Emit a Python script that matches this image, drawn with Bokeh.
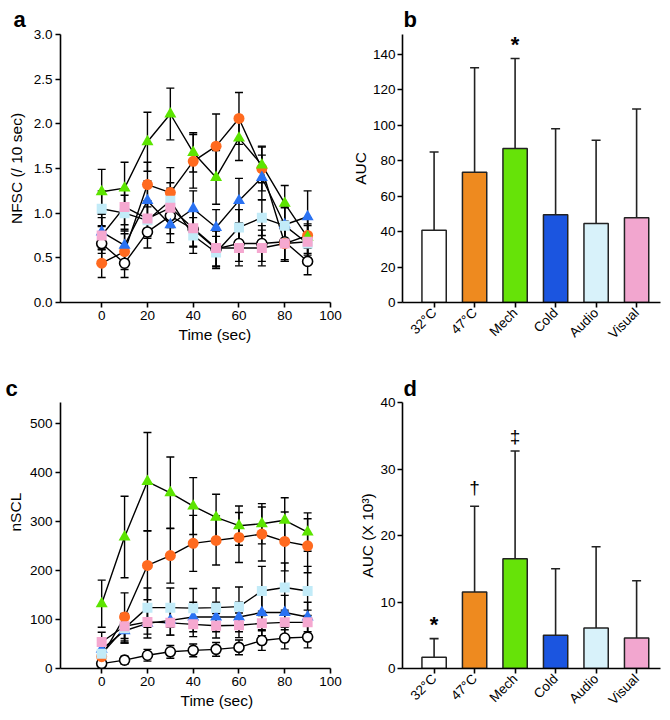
import math
from bokeh.plotting import figure
from bokeh.models import ColumnDataSource, Whisker, TeeHead, FixedTicker, Range1d, Title
from bokeh.layouts import row, column
from bokeh.embed import file_html
from bokeh.resources import INLINE
from bokeh.core.properties import value

# ---------------- data ----------------
time_sec = [0, 10, 20, 30, 40, 50, 60, 70, 80, 90]
groups = ["32°C", "47°C", "Mech", "Cold", "Audio", "Visual"]

# panel a: NFSC (/10 sec), mean and SEM
nfsc_32 = [0.66, 0.44, 0.79, 0.97, 0.82, 0.60, 0.66, 0.66, 0.68, 0.46]
nfsc_47 = [0.44, 0.57, 1.32, 1.23, 1.58, 1.75, 2.06, 1.50, 0.66, 0.75]
nfsc_mech = [1.24, 1.28, 1.80, 2.11, 1.68, 1.40, 1.84, 1.54, 1.11, 0.73]
nfsc_cold = [0.79, 0.64, 1.14, 0.87, 1.05, 0.84, 1.14, 1.40, 0.87, 0.96]
nfsc_audio = [1.05, 1.00, 0.92, 1.14, 0.75, 0.56, 0.84, 0.95, 0.86, 0.66]
nfsc_visual = [0.75, 1.07, 0.94, 1.06, 0.83, 0.61, 0.61, 0.61, 0.66, 0.68]
nfsc_err_32 = [0.20, 0.16, 0.18, 0.20, 0.20, 0.20, 0.20, 0.20, 0.20, 0.15]
nfsc_err_47 = [0.16, 0.20, 0.25, 0.28, 0.30, 0.36, 0.29, 0.25, 0.20, 0.20]
nfsc_err_mech = [0.25, 0.29, 0.33, 0.29, 0.22, 0.30, 0.25, 0.20, 0.20, 0.20]
nfsc_err_cold = [0.20, 0.18, 0.22, 0.20, 0.20, 0.20, 0.25, 0.25, 0.20, 0.29]
nfsc_err_audio = [0.20, 0.20, 0.20, 0.20, 0.20, 0.18, 0.20, 0.20, 0.20, 0.20]
nfsc_err_visual = [0.20, 0.20, 0.20, 0.22, 0.20, 0.20, 0.20, 0.20, 0.20, 0.20]

# panel c: nSCL, mean and SEM
nscl_32 = [10, 17, 27, 34, 37, 39, 43, 57, 62, 64]
nscl_47 = [24, 105, 210, 230, 255, 261, 267, 274, 259, 250]
nscl_mech = [132, 268, 381, 358, 331, 308, 291, 295, 302, 278]
nscl_cold = [39, 77, 92, 98, 105, 105, 105, 114, 114, 105]
nscl_audio = [30, 82, 124, 124, 123, 124, 126, 158, 165, 158]
nscl_visual = [54, 86, 95, 93, 90, 87, 88, 92, 94, 94]
nscl_err_32 = [6, 8, 12, 13, 13, 14, 15, 20, 22, 22]
nscl_err_47 = [10, 49, 70, 56, 57, 50, 51, 55, 60, 55]
nscl_err_mech = [48, 83, 100, 73, 58, 47, 40, 41, 46, 39]
nscl_err_cold = [15, 25, 30, 30, 30, 30, 30, 35, 35, 30]
nscl_err_audio = [15, 30, 40, 40, 40, 40, 40, 50, 50, 50]
nscl_err_visual = [20, 25, 25, 25, 25, 25, 25, 25, 25, 25]

# panel b: AUC of NFSC (mean, SD)
auc_nfsc = [40.7, 73.4, 86.7, 49.5, 44.5, 47.7]
auc_nfsc_sd = [44.1, 58.9, 50.8, 48.4, 46.9, 61.3]
marks_b = ["", "", "*", "", "", ""]

# panel d: AUC of nSCL (x 10^3)
auc_nscl = [1.7, 11.5, 16.5, 5.0, 6.1, 4.6]
auc_nscl_sd = [2.8, 12.9, 16.2, 10.0, 12.2, 8.6]
marks_d = ["*", "†", "‡", "", "", ""]

# ---------------- styles ----------------
FONT = "Liberation Sans"
TICK_FS = "13.5px"
LABEL_FS = "15.5px"
line_cols = ["white", "#FF6A1F", "#5CE400", "#2A72F2", "#C2EBF8", "#F5A8D0"]
line_markers = ["circle", "circle", "triangle", "triangle", "square", "square"]
marker_sizes = [10, 11, 12, 12, 10, 10]
bar_cols = ["white", "#EE8A1F", "#66E308", "#1B55E0", "#D8F2FA", "#F2A6CF"]
mark_style = {"*": ("22px", "bold", -14), "†": ("19px", "normal", -19), "‡": ("19px", "normal", -15)}


def style_axes(p):
    for ax in p.axis:
        ax.axis_line_width = 1.6
        ax.axis_line_color = "black"
        ax.major_tick_line_width = 1.6
        ax.major_tick_line_color = "black"
        ax.major_tick_out = 5
        ax.major_tick_in = 0
        ax.minor_tick_line_color = None
        ax.major_label_text_font = FONT
        ax.major_label_text_font_size = TICK_FS
        ax.major_label_text_color = "black"
        ax.major_label_standoff = 3
        ax.axis_label_text_font = FONT
        ax.axis_label_text_font_size = LABEL_FS
        ax.axis_label_text_font_style = "normal"
        ax.axis_label_text_color = "black"
        ax.axis_label_standoff = 4
    p.grid.visible = False
    p.outline_line_color = None
    p.background_fill_color = "white"
    p.border_fill_color = "white"


def panel_letter(p, letter, offset, standoff):
    p.title.text = letter
    p.title.align = "left"
    p.title.offset = offset
    p.title.standoff = standoff
    p.title.text_font = FONT
    p.title.text_font_size = "22px"
    p.title.text_font_style = "bold"
    p.title.text_color = "black"


def side_label(p, text, place, offset, standoff):
    p.add_layout(Title(text=text, align="left", offset=offset, standoff=standoff,
                       text_font=FONT, text_font_size=LABEL_FS, text_font_style="normal",
                       text_color="black"), place)


def line_panel(means, errs, yr, yticks, fmt, width, height, borders):
    bl, br, bt, bb = borders
    p = figure(width=width, height=height, output_backend="svg", toolbar_location=None,
               x_range=Range1d(-18, 100), y_range=Range1d(*yr),
               min_border_left=bl, min_border_right=br, min_border_top=bt, min_border_bottom=bb)
    for m, e in zip(means, errs):
        src = ColumnDataSource(dict(x=time_sec, y=m,
                                    up=[a + b for a, b in zip(m, e)],
                                    lo=[a - b for a, b in zip(m, e)]))
        p.add_layout(Whisker(source=src, base="x", upper="up", lower="lo",
                             line_color="black", line_width=1.4,
                             upper_head=TeeHead(size=8, line_width=1.4, line_color="black"),
                             lower_head=TeeHead(size=8, line_width=1.4, line_color="black")))
        p.line("x", "y", source=src, line_color="black", line_width=1.4)
    for i in range(len(means)):
        src = ColumnDataSource(dict(x=time_sec, y=means[i]))
        if i == 0:
            p.scatter("x", "y", source=src, marker="circle", size=marker_sizes[i],
                      fill_color="white", line_color="black", line_width=1.6)
        else:
            p.scatter("x", "y", source=src, marker=line_markers[i], size=marker_sizes[i],
                      fill_color=line_cols[i], line_color=None)
    p.xaxis.ticker = FixedTicker(ticks=[0, 20, 40, 60, 80, 100])
    p.yaxis.ticker = FixedTicker(ticks=yticks)
    p.yaxis.major_label_overrides = {t: fmt.format(t) for t in yticks}
    style_axes(p)
    return p


def bar_panel(means, sds, marks, yr, yticks, ylabel, width, height, borders):
    bl, br, bt, bb = borders
    xs = list(range(len(groups)))
    p = figure(width=width, height=height, output_backend="svg", toolbar_location=None,
               x_range=Range1d(-0.78, 5.59), y_range=Range1d(*yr),
               min_border_left=bl, min_border_right=br, min_border_top=bt, min_border_bottom=bb)
    src = ColumnDataSource(dict(x=xs, top=means, up=[a + b for a, b in zip(means, sds)],
                                col=bar_cols))
    p.add_layout(Whisker(source=src, base="x", upper="up", lower="top",
                         line_color="#222222", line_width=1.6,
                         upper_head=TeeHead(size=9, line_width=1.6, line_color="#222222"),
                         lower_head=None))
    p.vbar(x="x", top="top", bottom=0, width=0.6, source=src, fill_color="col",
           line_color="#222222", line_width=1.5)
    for mk in mark_style:
        idx = [i for i, m in enumerate(marks) if m == mk]
        if not idx:
            continue
        fs, fw, off = mark_style[mk]
        msrc = ColumnDataSource(dict(x=[xs[i] for i in idx],
                                     y=[means[i] + sds[i] for i in idx],
                                     t=[marks[i] for i in idx]))
        p.text(x="x", y="y", text="t", source=msrc, text_font=value(FONT),
               text_font_size=fs, text_font_style=fw, text_align="center",
               text_baseline="middle", y_offset=off, text_color="black")
    p.xaxis.ticker = FixedTicker(ticks=xs)
    p.xaxis.major_label_overrides = {i: g for i, g in enumerate(groups)}
    p.xaxis.major_label_orientation = math.pi / 4
    p.yaxis.ticker = FixedTicker(ticks=yticks)
    p.yaxis.axis_label = ylabel
    style_axes(p)
    p.yaxis.axis_label_standoff = 1
    p.yaxis.major_label_standoff = 2
    return p


pa = line_panel([nfsc_32, nfsc_47, nfsc_mech, nfsc_cold, nfsc_audio, nfsc_visual],
                [nfsc_err_32, nfsc_err_47, nfsc_err_mech, nfsc_err_cold, nfsc_err_audio, nfsc_err_visual],
                (0, 3.0), [0, 0.5, 1.0, 1.5, 2.0, 2.5, 3.0], "{:.1f}",
                348, 370, (60, 18, 34, 68))
pa.yaxis.axis_label = "NFSC (/ 10 sec)"
pa.yaxis.axis_label_standoff = 6
side_label(pa, "Time (sec)", "below", 118, 3)

pb = bar_panel(auc_nfsc, auc_nfsc_sd, marks_b, (0, 151), [0, 20, 40, 60, 80, 100, 120, 140],
               "AUC", 322, 370, (54, 10, 34, 68))

pc = line_panel([nscl_32, nscl_47, nscl_mech, nscl_cold, nscl_audio, nscl_visual],
                [nscl_err_32, nscl_err_47, nscl_err_mech, nscl_err_cold, nscl_err_audio, nscl_err_visual],
                (0, 542), [0, 100, 200, 300, 400, 500], "{:.0f}",
                348, 348, (60, 18, 32, 50))
side_label(pc, "Time (sec)", "below", 120, 3)
side_label(pc, "nSCL", "left", 137, 5)

pd = bar_panel(auc_nscl, auc_nscl_sd, marks_d, (0, 40), [0, 10, 20, 30, 40],
               "AUC (X 10³)", 322, 348, (54, 10, 32, 50))

panel_letter(pa, "a", -47, 6)
panel_letter(pb, "b", 1, 6)
panel_letter(pc, "c", -55, 3)
panel_letter(pd, "d", 1, 3)

layout = column(row(pa, pb, spacing=0), row(pc, pd, spacing=0), spacing=0)
open("out.html", "w").write(file_html(layout, INLINE))
